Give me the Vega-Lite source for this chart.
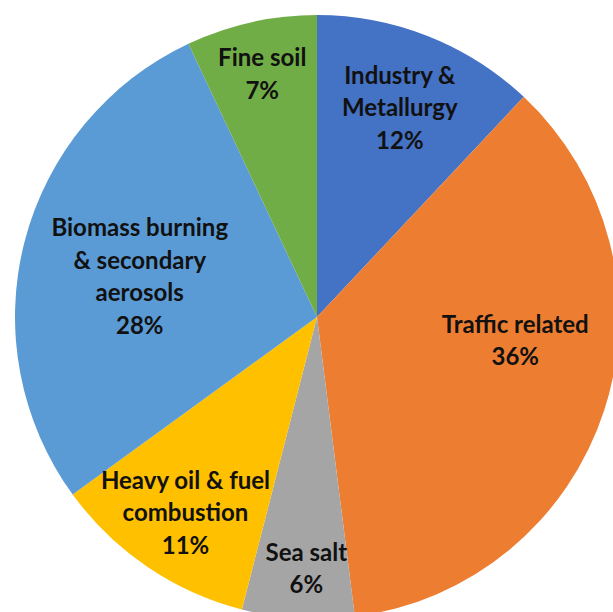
{
  "$schema": "https://vega.github.io/schema/vega-lite/v6.json",
  "width": 634,
  "height": 634,
  "padding": 0,
  "autosize": {"type": "none"},
  "background": "white",
  "config": {"view": {"stroke": null}},
  "data": {
    "values": [
      {"idx": 1, "source": "Industry & Metallurgy", "name": "Industry &\nMetallurgy", "value": 12},
      {"idx": 2, "source": "Traffic related", "name": "Traffic related", "value": 36},
      {"idx": 3, "source": "Sea salt", "name": "Sea salt", "value": 6},
      {"idx": 4, "source": "Heavy oil & fuel combustion", "name": "Heavy oil & fuel\ncombustion", "value": 11},
      {"idx": 5, "source": "Biomass burning & secondary aerosols", "name": "Biomass burning\n& secondary\naerosols", "value": 28},
      {"idx": 6, "source": "Fine soil", "name": "Fine soil", "value": 7}
    ]
  },
  "transform": [
    {"calculate": "datum.name + '\\n' + datum.value + '%'", "as": "label"}
  ],
  "encoding": {
    "theta": {"field": "value", "type": "quantitative", "stack": true},
    "order": {"field": "idx", "type": "quantitative"},
    "color": {
      "field": "source",
      "type": "nominal",
      "legend": null,
      "sort": {"field": "idx"},
      "scale": {
        "domain": ["Industry & Metallurgy", "Traffic related", "Sea salt", "Heavy oil & fuel combustion", "Biomass burning & secondary aerosols", "Fine soil"],
        "range": ["#4472C4", "#ED7D31", "#A5A5A5", "#FFC000", "#5B9BD5", "#70AD47"]
      }
    }
  },
  "layer": [
    {"mark": {"type": "arc", "radius": 302}},
    {
      "mark": {"type": "text", "radius": 225, "dy": -31, "font": "Lato", "fontWeight": "bold", "fontSize": 24, "fill": "#111", "lineBreak": "\n", "lineHeight": 32.5, "baseline": "middle", "align": "center"},
      "encoding": {"text": {"condition": {"test": "datum.idx === 1", "field": "label"}, "value": ""}}
    },
    {
      "mark": {"type": "text", "radius": 200, "dx": 8, "dy": -53, "font": "Lato", "fontWeight": "bold", "fontSize": 24, "fill": "#111", "lineBreak": "\n", "lineHeight": 32.5, "baseline": "middle", "align": "center"},
      "encoding": {"text": {"condition": {"test": "datum.idx === 2", "field": "label"}, "value": ""}}
    },
    {
      "mark": {"type": "text", "radius": 250, "dx": 5, "dy": -13, "font": "Lato", "fontWeight": "bold", "fontSize": 24, "fill": "#111", "lineBreak": "\n", "lineHeight": 32.5, "baseline": "middle", "align": "center"},
      "encoding": {"text": {"condition": {"test": "datum.idx === 3", "field": "label"}, "value": ""}}
    },
    {
      "mark": {"type": "text", "radius": 234, "dy": -29, "font": "Lato", "fontWeight": "bold", "fontSize": 24, "fill": "#111", "lineBreak": "\n", "lineHeight": 32.5, "baseline": "middle", "align": "center"},
      "encoding": {"text": {"condition": {"test": "datum.idx === 4", "field": "label"}, "value": ""}}
    },
    {
      "mark": {"type": "text", "radius": 183, "dy": -42, "font": "Lato", "fontWeight": "bold", "fontSize": 24, "fill": "#111", "lineBreak": "\n", "lineHeight": 32.5, "baseline": "middle", "align": "center"},
      "encoding": {"text": {"condition": {"test": "datum.idx === 5", "field": "label"}, "value": ""}}
    },
    {
      "mark": {"type": "text", "radius": 251, "dy": -13, "font": "Lato", "fontWeight": "bold", "fontSize": 24, "fill": "#111", "lineBreak": "\n", "lineHeight": 32.5, "baseline": "middle", "align": "center"},
      "encoding": {"text": {"condition": {"test": "datum.idx === 6", "field": "label"}, "value": ""}}
    }
  ]
}
